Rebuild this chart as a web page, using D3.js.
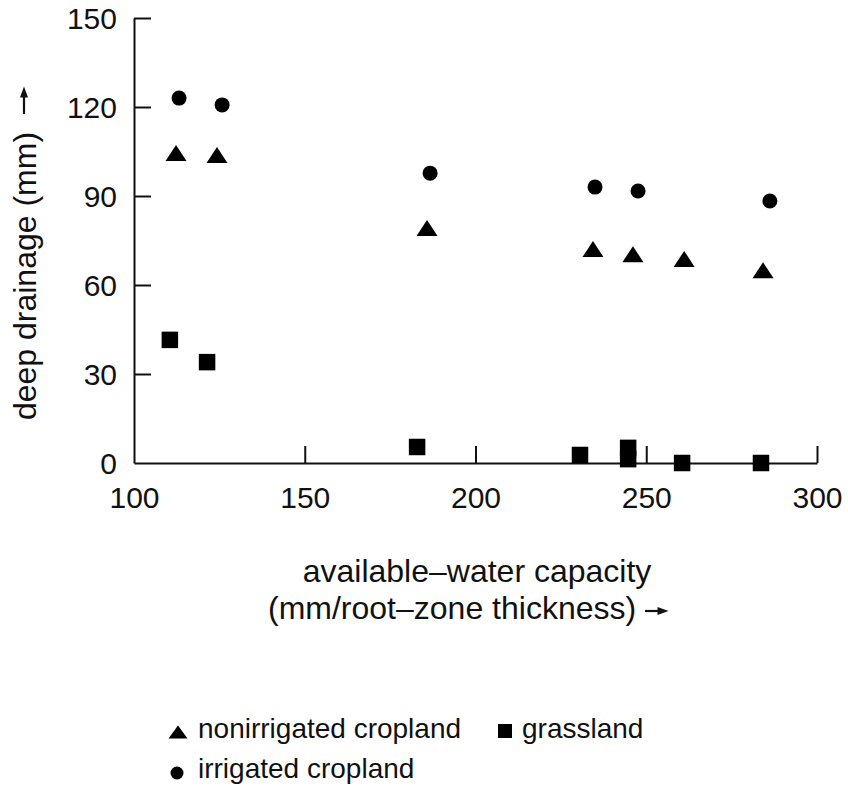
<!DOCTYPE html>
<html>
<head>
<meta charset="utf-8">
<script src="https://cdn.jsdelivr.net/npm/d3@7"></script>
<style>
    body { margin: 0; background: #fff; }
    svg text { font-family: "Liberation Sans", Arial, Helvetica, sans-serif; fill: #111; }
</style>
</head>
<body>
<div id="chart"></div>
<script>
// values
var nonirrigatedX = [112.3, 124.3, 185.8, 234.4, 246.1, 261.1, 284.2];
var nonirrigatedY = [104.5, 103.8, 79.2, 72.1, 70.4, 68.8, 65.0];
var irrigatedX = [113.2, 125.8, 186.7, 235.0, 247.6, 286.2];
var irrigatedY = [123.0, 120.7, 97.7, 93.0, 91.7, 88.3];
var grasslandX = [110.5, 121.4, 182.9, 230.6, 244.7, 244.7, 260.5, 283.6];
var grasslandY = [41.5, 34.0, 5.4, 2.7, 5.1, 1.3, 0.0, 0.0];
var xTicks = [100, 150, 200, 250, 300];
var yTicks = [0, 30, 60, 90, 120, 150];
var legendLabels = ["nonirrigated cropland", "grassland", "irrigated cropland"];

var width = 848, height = 792;
var svg = d3.select("#chart").append("svg")
    .attr("width", width)
    .attr("height", height);

var x = d3.scaleLinear().domain([100, 300]).range([134, 817]);
var y = d3.scaleLinear().domain([0, 150]).range([463, 18]);

// little shape helpers (offsets around a centre point)
function triangle(w, h) {
    return "M0," + (-h / 2) + "L" + (w / 2) + "," + (h / 2) + "L" + (-w / 2) + "," + (h / 2) + "Z";
}
function square(s) {
    return "M" + (-s / 2) + "," + (-s / 2) + "h" + s + "v" + s + "h" + (-s) + "Z";
}

// y axis, ticks pointing inward
var yAxis = svg.append("g")
    .attr("transform", "translate(" + x(100) + ",0)")
    .call(d3.axisLeft(y).tickValues(yTicks).tickSizeInner(-17).tickSizeOuter(0).tickPadding(17));

// x axis, ticks pointing up
var xAxis = svg.append("g")
    .attr("transform", "translate(0," + y(0) + ")")
    .call(d3.axisBottom(x).tickValues(xTicks).tickSizeInner(-17).tickSizeOuter(0).tickPadding(24));

[xAxis, yAxis].forEach(function (ax) {
    ax.attr("font-family", null).attr("font-size", null);
    ax.select(".domain").attr("stroke", "#111").attr("stroke-width", 2);
    ax.selectAll(".tick line").attr("stroke", "#111").attr("stroke-width", 2);
    ax.selectAll(".tick text").style("font-size", "30px").attr("fill", "#111");
});
yAxis.selectAll(".tick line").filter(function (d) { return d === 0; }).remove();
xAxis.selectAll(".tick line").filter(function (d) { return d === 100; }).remove();
yAxis.selectAll(".tick text").attr("dy", "0.36em");

// axis titles
svg.append("text")
    .attr("transform", "translate(36,276) rotate(-90)")
    .attr("text-anchor", "middle")
    .style("font-size", "32px")
    .text("deep drainage (mm)");

svg.append("line")
    .attr("x1", 24).attr("y1", 114).attr("x2", 24).attr("y2", 95)
    .attr("stroke", "#111").attr("stroke-width", 2.2);
svg.append("path")
    .attr("transform", "translate(24,92)")
    .attr("d", triangle(8, 11))
    .attr("fill", "#111");

svg.append("text")
    .attr("x", 477).attr("y", 582)
    .attr("text-anchor", "middle")
    .style("font-size", "32px")
    .text("available\u2013water capacity");

svg.append("text")
    .attr("x", 268).attr("y", 619)
    .style("font-size", "32px")
    .text("(mm/root\u2013zone thickness)");

svg.append("line")
    .attr("x1", 645).attr("y1", 611).attr("x2", 660).attr("y2", 611)
    .attr("stroke", "#111").attr("stroke-width", 2.2);
svg.append("path")
    .attr("transform", "translate(663,611) rotate(90)")
    .attr("d", triangle(8, 11))
    .attr("fill", "#111");

// marks
var plot = svg.append("g");

plot.selectAll("path.nonirr")
    .data(nonirrigatedX)
    .enter().append("path")
    .attr("class", "nonirr")
    .attr("transform", function (d, i) { return "translate(" + x(d) + "," + y(nonirrigatedY[i]) + ")"; })
    .attr("d", triangle(21, 16))
    .attr("fill", "#000");

plot.selectAll("circle.irr")
    .data(irrigatedX)
    .enter().append("circle")
    .attr("class", "irr")
    .attr("cx", function (d) { return x(d); })
    .attr("cy", function (d, i) { return y(irrigatedY[i]); })
    .attr("r", 7.5)
    .attr("fill", "#000");

plot.selectAll("path.grass")
    .data(grasslandX)
    .enter().append("path")
    .attr("class", "grass")
    .attr("transform", function (d, i) { return "translate(" + x(d) + "," + y(grasslandY[i]) + ")"; })
    .attr("d", square(16.5))
    .attr("fill", "#000");

// legend
var legend = svg.append("g");
var legendItems = [
    { label: legendLabels[0], shape: triangle(19, 13), mx: 178, my: 732, tx: 198, ty: 738 },
    { label: legendLabels[1], shape: square(14), mx: 505, my: 731, tx: 522, ty: 738 },
    { label: legendLabels[2], shape: null, mx: 177, my: 773, tx: 198, ty: 778 }
];
legendItems.forEach(function (item) {
    if (item.shape) {
        legend.append("path")
            .attr("transform", "translate(" + item.mx + "," + item.my + ")")
            .attr("d", item.shape)
            .attr("fill", "#000");
    } else {
        legend.append("circle")
            .attr("cx", item.mx).attr("cy", item.my).attr("r", 6.5)
            .attr("fill", "#000");
    }
    legend.append("text")
        .attr("x", item.tx).attr("y", item.ty)
        .style("font-size", "28px")
        .text(item.label);
});
</script>
</body>
</html>
